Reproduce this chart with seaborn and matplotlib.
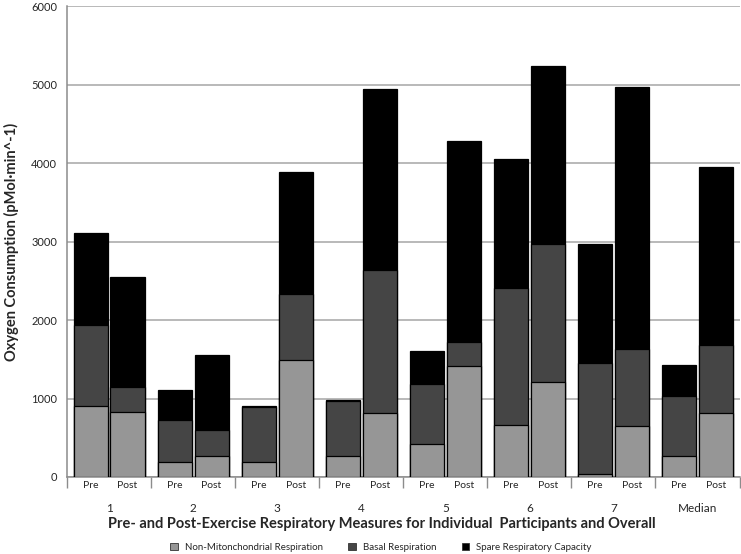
import numpy as np
import pandas as pd
import matplotlib.pyplot as plt
import seaborn as sns
from matplotlib.patches import Patch

# Data (pMol/min)
groups = ['1', '2', '3', '4', '5', '6', '7', 'Median']
phases = ['Pre', 'Post']

non_mito = [905, 825, 185, 265, 190, 1490, 265, 820,
            425, 1415, 665, 1205, 40, 655, 265, 820]
basal = [1035, 325, 540, 335, 700, 840, 700, 1820,
         760, 305, 1740, 1765, 1410, 970, 765, 860]
spare = [1175, 1395, 380, 955, 15, 1550, 10, 2310,
         415, 2565, 1650, 2270, 1515, 3345, 395, 2270]

series_names = ['Non-Mitonchondrial Respiration', 'Basal Respiration',
                'Spare Respiratory Capacity']
colors = ['#969696', '#454545', '#000000']

# Build long table with bar positions (pre/post sit inside each group slot)
offset = {'Pre': 0.28, 'Post': 0.72}
rows = []
i = 0
for g, grp in enumerate(groups):
    for ph in phases:
        rows.append({'group': grp, 'phase': ph, 'pos': g + offset[ph],
                     'nm': non_mito[i], 'basal': basal[i], 'spare': spare[i]})
        i += 1
df = pd.DataFrame(rows)
df['top_nm'] = df['nm']
df['top_basal'] = df['nm'] + df['basal']
df['top_spare'] = df['top_basal'] + df['spare']

sns.set_style('white')
plt.rcParams['font.family'] = ['Lato', 'DejaVu Sans']

fig = plt.figure(figsize=(7.41, 5.54), dpi=100)
ax = fig.add_axes([0.0904, 0.139, 0.9076, 0.850])

bar_w = 0.405 / 0.44
for col, c in zip(['top_spare', 'top_basal', 'top_nm'], colors[::-1]):
    sns.barplot(data=df, x='pos', y=col, native_scale=True, color=c,
                saturation=1, edgecolor='black', linewidth=0.9,
                width=bar_w, errorbar=None, ax=ax, zorder=3)

ax.set_xlim(0, len(groups))
ax.set_ylim(0, 6000)
ax.set_yticks(np.arange(0, 6001, 1000))
ax.yaxis.grid(True, color='#a6a6a6', linewidth=1.1, zorder=0)
ax.set_axisbelow(True)
for s in ['top', 'right']:
    ax.spines[s].set_visible(False)
for s in ['left', 'bottom']:
    ax.spines[s].set_color('#8c8c8c')
    ax.spines[s].set_linewidth(1.1)

ax.tick_params(axis='y', length=4, color='#8c8c8c', labelsize=8, pad=3)

# lower level: Pre / Post labels
ax.set_xticks(df['pos'], df['phase'])
ax.tick_params(axis='x', which='major', length=0, labelsize=7.5, pad=3)
ax.set_xticks(np.arange(len(groups)) + 0.5, minor=True)
ax.tick_params(axis='x', which='minor', length=3.5, color='#8c8c8c', width=1)

# upper level: participant labels and group separators
sec = ax.secondary_xaxis('bottom')
sec.spines['bottom'].set_visible(False)
sec.set_xticks(np.arange(len(groups)) + 0.5, groups)
sec.tick_params(axis='x', which='major', length=0, labelsize=8.5, pad=19)
sec.set_xticks(np.arange(len(groups) + 1), minor=True)
sec.tick_params(axis='x', which='minor', length=8, color='#8c8c8c', width=1)

ax.set_xlabel('')
sec.set_xlabel('Pre- and Post-Exercise Respiratory Measures for Individual  Participants and Overall',
               fontsize=10.5, fontweight='bold', labelpad=2)
sec.xaxis.label.set_x(0.468)
ax.set_ylabel('Oxygen Consumption (pMol·min^-1)', fontsize=10.5,
              fontweight='bold', labelpad=9)

handles = [Patch(facecolor=c, edgecolor='#333333', linewidth=0.6) for c in colors]
fig.legend(handles, series_names, loc='lower center', ncol=3,
           bbox_to_anchor=(0.514, -0.012), frameon=False, fontsize=7,
           handlelength=0.8, handleheight=0.8, columnspacing=2.6,
           handletextpad=0.7)

plt.savefig('out.png', dpi=100, facecolor='white')
